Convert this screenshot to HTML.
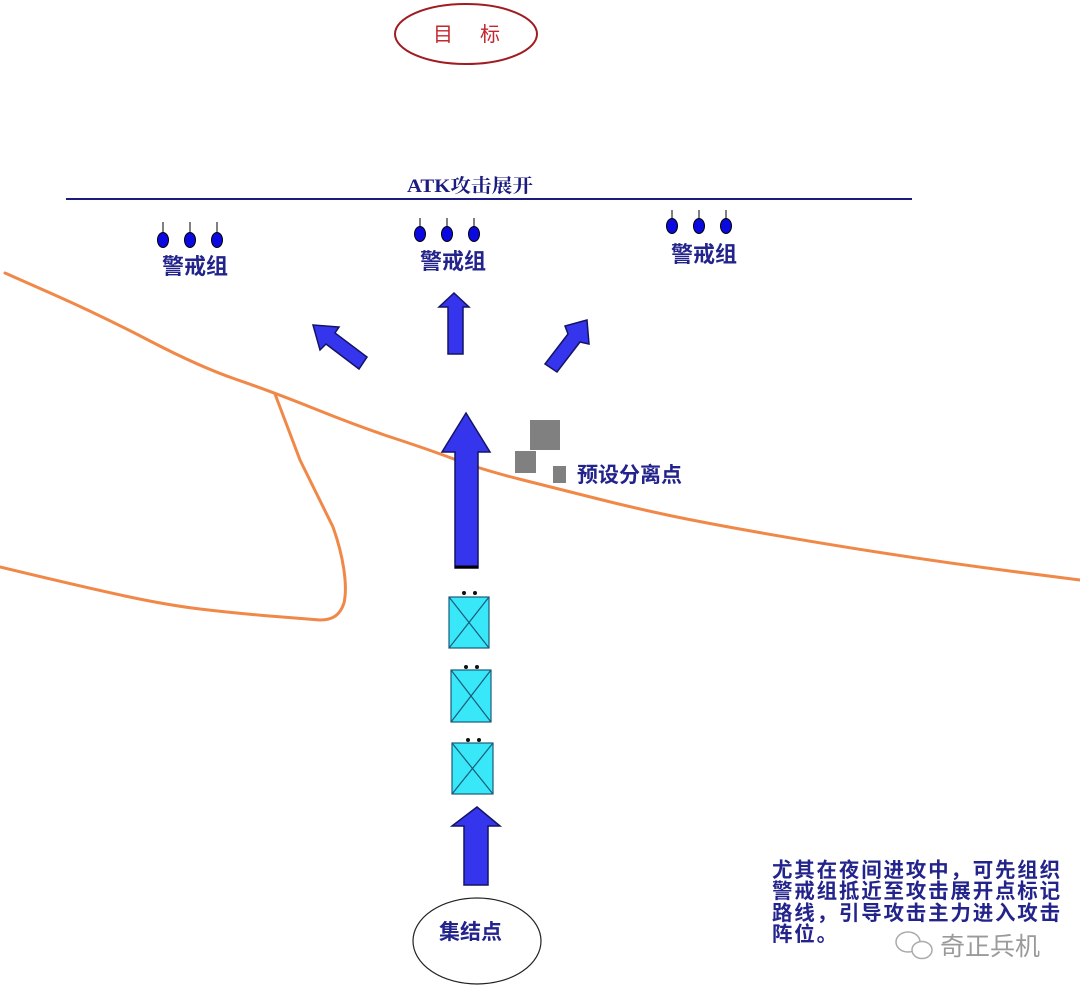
<!DOCTYPE html>
<html>
<head>
<meta charset="utf-8">
<style>
html,body{margin:0;padding:0;background:#fff;}
body{width:1080px;height:994px;overflow:hidden;position:relative;}
svg{position:absolute;left:0;top:0;}
.cn{font-family:"Liberation Sans","Noto Sans CJK SC",sans-serif;font-weight:bold;fill:#23238c;}
</style>
</head>
<body>
<svg width="1080" height="994" viewBox="0 0 1080 994" xmlns="http://www.w3.org/2000/svg">
  <!-- target -->
  <ellipse cx="466" cy="34" rx="71" ry="30" fill="#fff" stroke="#a01c22" stroke-width="2"/>
  <text x="443" y="41" font-family="Liberation Sans,Noto Sans CJK SC,sans-serif" font-size="20" fill="#c4262e" text-anchor="middle">目</text>
  <text x="490" y="41" font-family="Liberation Sans,Noto Sans CJK SC,sans-serif" font-size="20" fill="#c4262e" text-anchor="middle">标</text>

  <!-- ATK line -->
  <text x="407" y="192" font-family="Liberation Serif,Noto Serif CJK SC,serif" font-size="19" font-weight="bold" fill="#1c1c80" textLength="126" lengthAdjust="spacingAndGlyphs">ATK攻击展开</text>
  <line x1="66" y1="199" x2="912" y2="199" stroke="#1c1c80" stroke-width="2"/>

  <!-- guard groups -->
  <g fill="#0a0ae0" stroke="#000" stroke-width="1">
    <line x1="163" y1="222" x2="163" y2="233"/><ellipse cx="163" cy="240" rx="5.5" ry="7.5"/>
    <line x1="190" y1="222" x2="190" y2="233"/><ellipse cx="190" cy="240" rx="5.5" ry="7.5"/>
    <line x1="217" y1="222" x2="217" y2="233"/><ellipse cx="217" cy="240" rx="5.5" ry="7.5"/>
    <line x1="420" y1="218" x2="420" y2="227"/><ellipse cx="420" cy="234" rx="5.5" ry="7.5"/>
    <line x1="447" y1="218" x2="447" y2="227"/><ellipse cx="447" cy="234" rx="5.5" ry="7.5"/>
    <line x1="474" y1="218" x2="474" y2="227"/><ellipse cx="474" cy="234" rx="5.5" ry="7.5"/>
    <line x1="672" y1="210" x2="672" y2="219"/><ellipse cx="672" cy="226" rx="5.5" ry="7.5"/>
    <line x1="699" y1="210" x2="699" y2="219"/><ellipse cx="699" cy="226" rx="5.5" ry="7.5"/>
    <line x1="726" y1="210" x2="726" y2="219"/><ellipse cx="726" cy="226" rx="5.5" ry="7.5"/>
  </g>
  <text class="cn" x="162" y="274" font-size="22">警戒组</text>
  <text class="cn" x="420" y="269" font-size="22">警戒组</text>
  <text class="cn" x="671" y="262" font-size="22">警戒组</text>

  <!-- orange terrain lines -->
  <g fill="none" stroke="#f08848" stroke-width="3" stroke-linejoin="round" stroke-linecap="round">
    <path d="M5,273 L52.5,294 Q100,315 150,341 Q200,367 236.5,379.5 Q273,392 316.5,409.5 Q360,427 395,438.5 Q430,450 456.5,460 Q483,470 523,480 Q563,490 596.5,498.5 Q630,507 665,514.5 Q700,522 756.5,532 Q813,542 880,552.5 Q947,563 1013.5,571.5 L1080,580"/>
    <path d="M275,394 L300,460 L333,527 C343,555 348,585 344,603 C340,615 333,620 320,620 L276,616.5 Q233,613 200,609 Q167,605 125,596 Q83,587 0,567"/>
  </g>

  <!-- blue arrows -->
  <g fill="#3535ee" stroke="#141464" stroke-width="1.5" stroke-linejoin="miter">
    <polygon points="313,325 339,327 335,333 367,357 359,369 326,344 320,350"/>
    <polygon points="454,293 469,307 463,307 463,354 448,354 448,307 439,307"/>
    <polygon points="587,320 589,344 580,342 557,372 545,364 568,334 565,326"/>
    <polygon points="466,413 490,452 478,452 478,568 455,568 455,452 442,452"/>
    <polygon points="477,807 500,826 488,826 488,885 464,885 464,826 452,826"/>
  </g>
  <line x1="455" y1="567" x2="478" y2="567" stroke="#000" stroke-width="3"/>

  <!-- gray squares -->
  <rect x="530" y="420" width="30" height="30" fill="#808080"/>
  <rect x="515" y="451" width="21" height="22" fill="#808080"/>
  <rect x="553" y="466" width="13" height="17" fill="#808080"/>
  <text class="cn" x="577" y="482" font-size="21">预设分离点</text>

  <!-- cyan boxes -->
  <g fill="#38e8f8" stroke="#1a5a7a" stroke-width="1.2">
    <rect x="449" y="597" width="40" height="51"/>
    <line x1="449" y1="597" x2="489" y2="648"/><line x1="489" y1="597" x2="449" y2="648"/>
    <rect x="451" y="670" width="40" height="52"/>
    <line x1="451" y1="670" x2="491" y2="722"/><line x1="491" y1="670" x2="451" y2="722"/>
    <rect x="452" y="743" width="41" height="51"/>
    <line x1="452" y1="743" x2="493" y2="794"/><line x1="493" y1="743" x2="452" y2="794"/>
  </g>
  <g fill="#111">
    <circle cx="464" cy="593" r="2"/><circle cx="475" cy="593" r="2"/>
    <circle cx="466" cy="667" r="2"/><circle cx="477" cy="667" r="2"/>
    <circle cx="468" cy="740" r="2"/><circle cx="479" cy="740" r="2"/>
  </g>

  <!-- assembly point -->
  <ellipse cx="477" cy="941" rx="64" ry="43" fill="#fff" stroke="#222" stroke-width="1.2"/>
  <text class="cn" x="439" y="939" font-size="21">集结点</text>

  <!-- note text -->
  <g class="cn" font-size="20.5" letter-spacing="1.8">
    <text x="772" y="877">尤其在夜间进攻中，可先组织</text>
    <text x="772" y="898">警戒组抵近至攻击展开点标记</text>
    <text x="772" y="920">路线，引导攻击主力进入攻击</text>
    <text x="772" y="941">阵位。</text>
  </g>

  <!-- watermark -->
  <g fill="none" stroke="#aaa" stroke-width="1.5">
    <ellipse cx="908" cy="942" rx="12" ry="10"/>
    <ellipse cx="922" cy="950" rx="10" ry="8.5" fill="#fff"/>
  </g>
  <text x="940" y="955" font-family="Liberation Sans,Noto Sans CJK SC,sans-serif" font-size="25" fill="#9a9a9a">奇正兵机</text>
</svg>
</body>
</html>
